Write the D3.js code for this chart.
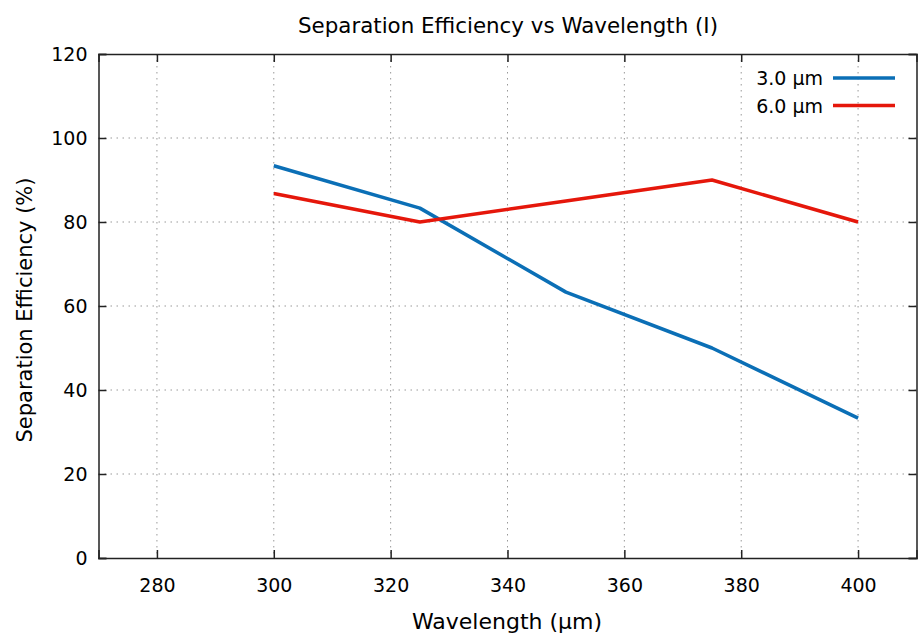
<!DOCTYPE html>
<html><head><meta charset="utf-8">
<script src="https://cdn.jsdelivr.net/npm/d3@7"></script>
<style>body{margin:0;background:#fff}svg{display:block}</style>
</head><body>
<svg id="c" width="918" height="634"></svg>
<script>
const wavelengths = [300, 325, 350, 375, 400];
const series3um = [93.4, 83.3, 63.3, 50, 33.3];
const series6um = [86.8, 80, 85, 90, 80];
const seriesNames = ["3.0 µm", "6.0 µm"];
const xTicks = [280, 300, 320, 340, 360, 380, 400];
const yTicks = [0, 20, 40, 60, 80, 100, 120];

const svg = d3.select("#c");
const m = {l: 98.5, r: 916.5, t: 54, b: 558};
const x = d3.scaleLinear().domain([270, 410]).range([m.l, m.r]);
const y = d3.scaleLinear().domain([0, 120]).range([m.b, m.t]);
const font = "DejaVu Sans, Verdana, sans-serif";

// grid
const g = svg.append("g");
g.selectAll("line.gx").data(xTicks).join("line")
  .attr("x1", d => x(d)).attr("x2", d => x(d)).attr("y1", m.t).attr("y2", m.b)
  .attr("stroke", "#999").attr("stroke-width", 1).attr("stroke-dasharray", "1.5,4.5");
g.selectAll("line.gy").data(yTicks.filter(d => d > 0 && d < 120)).join("line")
  .attr("x1", m.l).attr("x2", m.r).attr("y1", d => y(d)).attr("y2", d => y(d))
  .attr("stroke", "#999").attr("stroke-width", 1).attr("stroke-dasharray", "1.5,4.5");

// axes
const xb = d3.axisBottom(x).tickValues(xTicks).tickSize(-8).tickPadding(21);
const xt = d3.axisTop(x).tickValues(xTicks).tickSize(-8).tickFormat("");
const yl = d3.axisLeft(y).tickValues(yTicks).tickSize(-8).tickPadding(11);
const yr = d3.axisRight(y).tickValues(yTicks).tickSize(-8).tickFormat("");
[[xb, `translate(0,${m.b})`], [xt, `translate(0,${m.t})`], [yl, `translate(${m.l},0)`], [yr, `translate(${m.r},0)`]]
  .forEach(([a, t]) => {
    const gg = svg.append("g").attr("transform", t).call(a);
    gg.selectAll("path.domain").attr("stroke", "#222").attr("stroke-width", 1.5);
    gg.selectAll(".tick line").attr("stroke", "#222").attr("stroke-width", 1.5);
    gg.selectAll("text").attr("font-family", font).attr("font-size", 19).attr("fill", "#000");
  });

// lines
const colors = ["#0b6fb6", "#e5170b"];
const data = [series3um, series6um];
const line = d3.line().x((d, i) => x(wavelengths[i])).y(d => y(d));
data.forEach((s, k) => {
  svg.append("path").datum(s).attr("d", line).attr("fill", "none")
    .attr("stroke", colors[k]).attr("stroke-width", 3.5).attr("stroke-linejoin", "round");
});

// legend
seriesNames.forEach((n, k) => {
  const ly = 78 + k * 27.5;
  svg.append("text").attr("x", 823).attr("y", ly + 7).attr("text-anchor", "end")
    .attr("font-family", font).attr("font-size", 19).attr("fill", "#000").text(n);
  svg.append("line").attr("x1", 833).attr("x2", 895).attr("y1", ly).attr("y2", ly)
    .attr("stroke", colors[k]).attr("stroke-width", 3.5);
});

// titles
svg.append("text").attr("x", 508).attr("y", 33).attr("text-anchor", "middle")
  .attr("font-family", font).attr("font-size", 22).attr("fill", "#000")
  .attr("textLength", 420).attr("lengthAdjust", "spacingAndGlyphs")
  .text("Separation Efficiency vs Wavelength (I)");
svg.append("text").attr("x", 507).attr("y", 629).attr("text-anchor", "middle")
  .attr("font-family", font).attr("font-size", 22).attr("fill", "#000")
  .text("Wavelength (µm)");
svg.append("text").attr("transform", "translate(32,310) rotate(-90)").attr("text-anchor", "middle")
  .attr("font-family", font).attr("font-size", 21).attr("fill", "#000")
  .text("Separation Efficiency (%)");
</script>
</body></html>
